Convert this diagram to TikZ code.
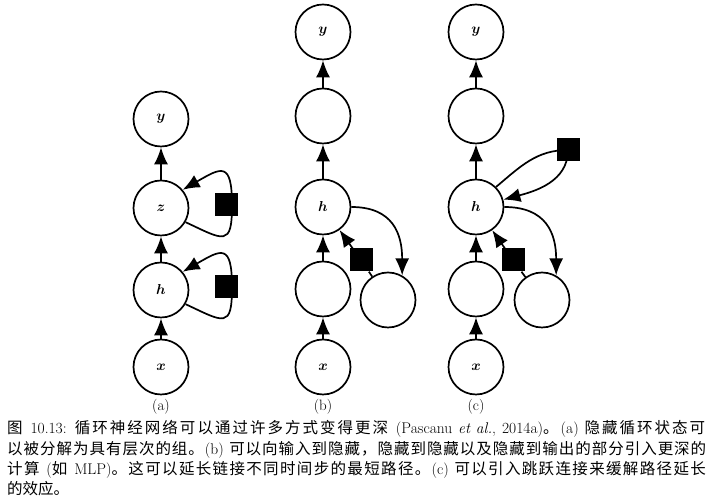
\documentclass[tikz,border=0pt]{standalone}
\usepackage{amsmath}
\usepackage{fontspec}
\newfontfamily\cjk{Noto Sans CJK SC}
\usetikzlibrary{arrows.meta}
% CJK run with stretchable glue after each character, so lines can be justified
\def\zhloop#1{\ifx#1\relax\else#1\hskip0pt plus 1pt\relax\expandafter\zhloop\fi}
\newcommand\zh[1]{{\cjk\zhloop#1\relax}}
\newcommand\capfont{\fontsize{15.5}{18}\selectfont\spaceskip=5pt plus 0.4pt\relax}

\begin{document}
\begin{tikzpicture}[x=1pt,y=1pt,
  unit/.style={circle,draw,line width=1.7pt,minimum size=55pt,inner sep=0pt,
    font=\fontsize{13.5}{13.5}\selectfont},
  delay/.style={rectangle,fill=black,draw=none,minimum size=23pt,inner sep=0pt},
  flow/.style={line width=1.7pt,-{Latex[length=17pt,width=14pt]}},
  sublabel/.style={font=\fontsize{15}{15}\selectfont,inner sep=0pt},
  capline/.style={anchor=base west,inner sep=0pt,font=\capfont}]
\useasboundingbox (0,0) rectangle (710,500);

% ---- (a): hierarchical hidden state ----
\node[unit] (ax) at (161,133) {$\boldsymbol{x}$};
\node[unit] (ah) at (161,210) {$\boldsymbol{h}$};
\node[unit] (az) at (161,292) {$\boldsymbol{z}$};
\node[unit] (ay) at (161,381) {$\boldsymbol{y}$};
\coordinate (az loop) at (232,295);
\coordinate (ah loop) at (232,213);
\draw[flow] (ax) -- (ah);
\draw[flow] (ah) -- (az);
\draw[flow] (az) -- (ay);
\draw[flow] (az.-30) to[out=-25,in=-90,looseness=2.2] (az loop)
  to[out=90,in=30,looseness=2.2] (az.40);
\draw[flow] (ah.-30) to[out=-25,in=-90,looseness=2.2] (ah loop)
  to[out=90,in=30,looseness=2.2] (ah.40);
\node[delay] (asz) at (226,295) {};
\node[delay] (ash) at (226,213) {};
\node[sublabel] (la) at (161,93) {(a)};

% ---- (b): deeper transitions ----
\node[unit] (bx) at (323,133) {$\boldsymbol{x}$};
\node[unit] (bl) at (323,211) {};
\node[unit] (bh) at (323,293) {$\boldsymbol{h}$};
\node[unit] (bu) at (323,384) {};
\node[unit] (by) at (323,468) {$\boldsymbol{y}$};
\node[unit] (bs) at (388,200) {};
\node[delay] (bq) at (361,240) {};
\draw[flow] (bx) -- (bl);
\draw[flow] (bl) -- (bh);
\draw[flow] (bh) -- (bu);
\draw[flow] (bu) -- (by);
\draw[flow] (bh.east) to[out=0,in=90,looseness=1.25] (bs.60);
\draw[flow] (bs) -- (bq) -- (bh);
\node[sublabel] (lb) at (323,93) {(b)};

% ---- (c): deeper transitions with skip connection ----
\node[unit] (cx) at (476,133) {$\boldsymbol{x}$};
\node[unit] (cl) at (476,211) {};
\node[unit] (ch) at (476,293) {$\boldsymbol{h}$};
\node[unit] (cu) at (476,384) {};
\node[unit] (cy) at (476,468) {$\boldsymbol{y}$};
\node[unit] (cs) at (542,200) {};
\node[delay] (cq) at (513,240) {};
\draw[flow] (cx) -- (cl);
\draw[flow] (cl) -- (ch);
\draw[flow] (ch) -- (cu);
\draw[flow] (cu) -- (cy);
\draw[flow] (ch.east) to[out=0,in=90,looseness=1.25] (cs.60);
\draw[flow] (cs) -- (cq) -- (ch);
\node[delay] (cp) at (568,350) {};
\draw[flow] (ch.45) to[out=40,in=180] (cp.center)
  to[out=-90,in=15] (ch.15);
\node[delay] at (cp) {};
\node[sublabel] (lc) at (476,93) {(c)};

% ---- caption ----
\node[capline] (cap1) at (7,66) {\hbox to 700pt{\zh{图} 10.13: \zh{循环神经网络可以通过许多方式变得更深} (Pascanu \textit{et al.}, 2014a)\zh{。}(a) \zh{隐藏循环状态可}}};
\node[capline] (cap2) at (7,45.7) {\hbox to 700pt{\zh{以被分解为具有层次的组。}(b) \zh{可以向输入到隐藏，隐藏到隐藏以及隐藏到输出的部分引入更深的}}};
\node[capline] (cap3) at (7,25.4) {\hbox to 700pt{\zh{计算} (\zh{如} MLP)\zh{。这可以延长链接不同时间步的最短路径。}(c) \zh{可以引入跳跃连接来缓解路径延长}}};
\node[capline] (cap4) at (7,5) {\zh{的效应。}};
\end{tikzpicture}
\end{document}
